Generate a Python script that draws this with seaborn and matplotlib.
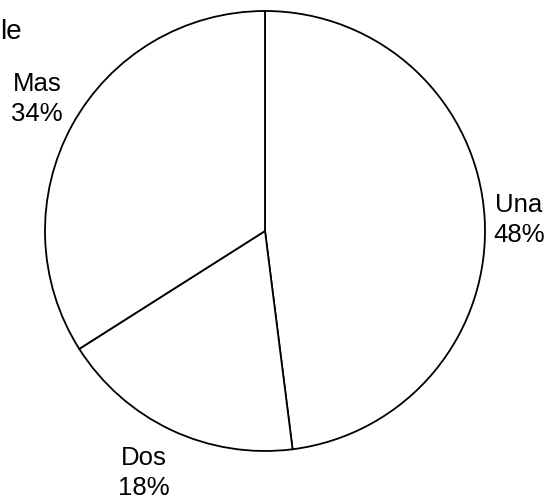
import matplotlib
matplotlib.use("Agg")
import matplotlib.pyplot as plt
import seaborn as sns

# Number of items: share per category (percent)
categories = ["Una", "Dos", "Mas"]
shares = [48, 18, 34]

sns.set_theme(style="white")
plt.rcParams["font.family"] = ["Liberation Sans", "DejaVu Sans"]

fig = plt.figure(figsize=(5.49, 5.04), dpi=100)
ax = fig.add_axes([0, 0, 1, 1])

wedges, _ = ax.pie(
    shares,
    startangle=90,
    counterclock=False,
    colors=["white"] * len(shares),
    wedgeprops=dict(edgecolor="black", linewidth=1.3),
    radius=1.0,
)

# label anchors (data units, pie radius = 1)
label_pos = [(1.155, 0.05), (-0.55, -1.10), (-1.036, 0.60)]
for cat, val, (x, y) in zip(categories, shares, label_pos):
    ax.text(x, y, f"{cat}\n{val}%", ha="center", va="center",
            fontsize=18.5, linespacing=1.3, color="black")

# title fragment at the upper-left edge
fig.text(0.001, 0.962, "le", ha="left", va="top", fontsize=20, color="black")

ax.set_xlim(-265 / 220, (549 - 265) / 220)
ax.set_ylim(-(504 - 231) / 220, 231 / 220)
ax.set_aspect("auto")
ax.axis("off")

fig.savefig("out.png", dpi=100, facecolor="white")
